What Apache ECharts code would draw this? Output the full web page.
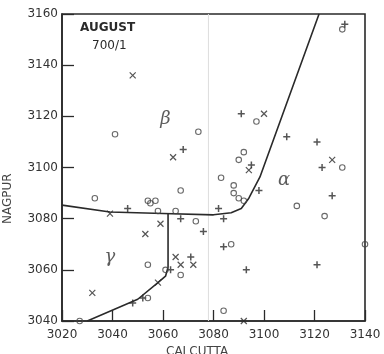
<!DOCTYPE html>
<html><head><meta charset="utf-8">
<script src="https://cdn.jsdelivr.net/npm/echarts@6/dist/echarts.min.js"></script>
<style>html,body{margin:0;padding:0;background:#fff}#c{width:384px;height:354px}</style>
</head><body><div id="c"></div>
<script>
const xTicks = [3020, 3040, 3060, 3080, 3100, 3120, 3140];
const yTicks = [3040, 3060, 3080, 3100, 3120, 3140, 3160];
const crosses = [[3048,3136],[3064,3104],[3100,3121],[3094,3099],[3127,3103],[3039,3082],[3053,3074],[3059,3078],[3032,3051],[3058,3055],[3065,3065],[3067,3062],[3072,3062],[3092,3040]];
const pluses = [[3068,3107],[3091,3121],[3109,3112],[3121,3110],[3095,3101],[3123,3100],[3127,3089],[3098,3091],[3046,3084],[3067,3080],[3076,3075],[3082,3084],[3084,3080],[3084,3069],[3063,3060],[3071,3065],[3093,3060],[3121,3062],[3048,3047],[3052,3049],[3132,3156]];
const circles = [[3041,3113],[3074,3114],[3097,3118],[3092,3106],[3090,3103],[3131,3100],[3113,3085],[3124,3081],[3140,3070],[3083,3096],[3088,3093],[3088,3090],[3090,3088],[3092,3087],[3067,3091],[3033,3088],[3054,3087],[3055,3086],[3057,3087],[3058,3083],[3065,3083],[3073,3079],[3087,3070],[3054,3062],[3061,3060],[3067,3058],[3054,3049],[3084,3044],[3027,3040],[3131,3154]];
const boundaryA = [[3020,3085.3],[3039,3082.6],[3060,3082],[3080,3081.5],[3087,3082.3],[3091,3084],[3094,3088],[3098.4,3096.3],[3121.8,3160]];
const boundaryB = [[3062,3082],[3062,3061],[3061,3057.5],[3058,3055],[3050,3048.5],[3030,3040]];
const foldLine = [[3078,3040],[3078,3160]];
const regionLabels = [{name:'β', pos:[3061,3119]},{name:'α', pos:[3108,3095]},{name:'γ', pos:[3039,3065]}];
const titleLines = ['AUGUST', '700/1'];

const ink = '#2a2a2a';
const chart = echarts.init(document.getElementById('c'));
chart.setOption({
  animation: false,
  backgroundColor: '#fff',
  grid: {left: 62, right: 19, top: 14, bottom: 33, show: true, borderColor: ink, borderWidth: 1.6},
  xAxis: {type: 'value', min: 3020, max: 3140, interval: 20,
    axisLine: {lineStyle: {color: ink, width: 1.6}},
    axisTick: {inside: true, length: 11, lineStyle: {color: ink, width: 1.3}},
    axisLabel: {color: '#333', fontSize: 12, fontFamily: 'DejaVu Sans', margin: 8,
      formatter: v => xTicks.includes(v) ? String(v) : ''},
    splitLine: {show: false}},
  yAxis: {type: 'value', min: 3040, max: 3160, interval: 20,
    axisLine: {lineStyle: {color: ink, width: 1.6}},
    axisTick: {inside: true, length: 12, lineStyle: {color: ink, width: 1.3}},
    axisLabel: {color: '#333', fontSize: 12, fontFamily: 'DejaVu Sans', margin: 4,
      formatter: v => yTicks.includes(v) ? String(v) : ''},
    splitLine: {show: false}},
  graphic: [
    {type: 'text', left: 80, top: 22, style: {text: titleLines[0], fontSize: 12, fontFamily: 'DejaVu Sans', fill: '#2a2a2a', fontWeight: 'bold'}},
    {type: 'text', left: 92, top: 40, style: {text: titleLines[1], fontSize: 12, fontFamily: 'DejaVu Sans', fill: '#2a2a2a'}},
    {type: 'text', x: 2, y: 224, rotation: Math.PI/2, style: {text: 'NAGPUR', fontSize: 12, fontFamily: 'DejaVu Sans', fill: '#444'}},
    {type: 'text', left: 166, top: 346, style: {text: 'CALCUTTA', fontSize: 12, fontFamily: 'DejaVu Sans', fill: '#444'}}
  ],
  series: [
    {type: 'line', data: foldLine, symbol: 'none', lineStyle: {color: '#ddd', width: 1}, silent: true, z: 1},
    {type: 'line', data: boundaryA, symbol: 'none', lineStyle: {color: ink, width: 1.6}, z: 3},
    {type: 'line', data: boundaryB, symbol: 'none', lineStyle: {color: ink, width: 1.6}, z: 3},
    {type: 'scatter', data: crosses, symbol: 'path://M0,0L10,10M10,0L0,10', symbolSize: 6,
      itemStyle: {color: 'none', borderColor: ink, borderWidth: 1.2}, z: 4},
    {type: 'scatter', data: pluses, symbol: 'path://M5,0L5,10M0,5L10,5', symbolSize: 7,
      itemStyle: {color: 'none', borderColor: ink, borderWidth: 1.5}, z: 4},
    {type: 'scatter', data: circles, symbol: 'circle', symbolSize: 5.5,
      itemStyle: {color: 'rgba(255,255,255,0)', borderColor: '#444', borderWidth: 1.1}, z: 4},
    {type: 'scatter', data: regionLabels.map(r => ({value: r.pos, name: r.name})), symbolSize: 0,
      label: {show: true, position: 'inside', formatter: p => p.name, fontSize: 18, fontStyle: 'italic',
        fontFamily: 'DejaVu Serif', color: '#333'}, z: 5}
  ]
});
</script></body></html>
